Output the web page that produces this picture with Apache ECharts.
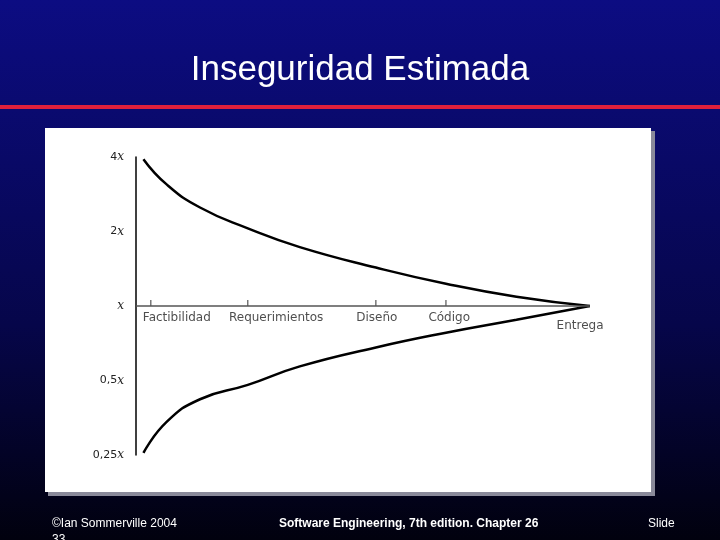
<!DOCTYPE html>
<html>
<head>
<meta charset="utf-8">
<script src="https://cdn.jsdelivr.net/npm/echarts@6/dist/echarts.min.js"></script>
<style>
  html, body { margin: 0; padding: 0; }
  #main { width: 720px; height: 540px; }
</style>
</head>
<body>
<div id="main"></div>
<script>
// tiempo del proyecto (0..100) y multiplicador de la estimación
var timeX = [1.6, 6.6, 13.8, 24.1, 35.3, 51.7, 66.8, 82, 97.8];
var upperY = [3.92, 3.1, 2.5, 2.06, 1.73, 1.43, 1.23, 1.09, 1];
var lowerY = [0.255, 0.34, 0.42, 0.48, 0.57, 0.68, 0.78, 0.88, 1];
// fases
var phases = ['Factibilidad', 'Requerimientos', 'Diseño', 'Código', 'Entrega'];
var phaseTicks = [3.2, 24.1, 51.7, 66.8];
var phaseLabelX = [8.8, 30.2, 51.9, 67.5, 95.7];
// etiquetas eje y
var yTicks = [0.25, 0.5, 1, 2, 4];
var yLabels = ['0,25', '0,5', '', '2', '4'];

function zip(xs, ys) {
    var out = [];
    for (let i = 0; i < xs.length; i++) out.push([xs[i], ys[i]]);
    return out;
}

var myChart = echarts.init(document.getElementById('main'));
var option = {
    animation: false,
    backgroundColor: new echarts.graphic.LinearGradient(0, 0, 0, 1, [
        { offset: 0, color: '#0c0c82' },
        { offset: 0.6, color: '#06064a' },
        { offset: 1, color: '#01010e' }
    ]),
    title: {
        text: 'Inseguridad Estimada',
        left: 'center',
        top: 48,
        textStyle: { color: '#fff', fontFamily: 'Liberation Sans', fontWeight: 'normal', fontSize: 35 }
    },
    graphic: [
        { type: 'rect', shape: { x: 0, y: 105, width: 720, height: 4 }, style: { fill: '#e0203c' } },
        { type: 'rect', shape: { x: 48, y: 131, width: 607, height: 365 }, style: { fill: '#8a8a9a' } },
        { type: 'rect', shape: { x: 45, y: 128, width: 606, height: 364 }, style: { fill: '#fff' } },
        { type: 'text', left: 52, top: 518, style: { text: '©Ian Sommerville 2004', fill: '#fff', font: '12px Liberation Sans' } },
        { type: 'text', left: 279, top: 518, style: { text: 'Software Engineering, 7th edition. Chapter 26', fill: '#fff', font: 'bold 12px Liberation Sans' } },
        { type: 'text', left: 648, top: 518, style: { text: 'Slide', fill: '#fff', font: '12px Liberation Sans' } },
        { type: 'text', left: 52, top: 534, style: { text: '33', fill: '#fff', font: '12px Liberation Sans' } }
    ],
    grid: { left: 136, width: 464, top: 157, height: 298 },
    xAxis: { type: 'value', min: 0, max: 100, show: false },
    yAxis: {
        type: 'log', logBase: 2, min: 0.25, max: 4,
        axisLine: { show: true, lineStyle: { color: '#000', width: 1.5 } },
        axisTick: { show: false },
        splitLine: { show: false },
        axisLabel: {
            margin: 12,
            formatter: function (v) {
                var i = yTicks.indexOf(v);
                return '{n|' + (i >= 0 ? yLabels[i] : '') + '}{x|x}';
            },
            rich: {
                n: { fontFamily: 'DejaVu Sans', fontSize: 11, color: '#222' },
                x: { fontFamily: 'DejaVu Serif', fontStyle: 'italic', fontSize: 12, color: '#222' }
            }
        }
    },
    series: [
        {
            type: 'line', smooth: true, symbol: 'none', data: zip(timeX, upperY),
            lineStyle: { color: '#000', width: 2.5 },
            markLine: {
                silent: true, symbol: 'none', label: { show: false },
                lineStyle: { color: '#555', type: 'solid', width: 1.5 },
                data: [[{ coord: [0, 1] }, { coord: [97.8, 1] }]]
            }
        },
        {
            type: 'line', smooth: true, symbol: 'none', data: zip(timeX, lowerY),
            lineStyle: { color: '#000', width: 2.5 }
        },
        {
            // marcas de fase sobre el eje x
            type: 'scatter', symbol: 'rect', symbolSize: [1, 6], symbolOffset: [0, -3],
            itemStyle: { color: '#000' },
            data: phaseTicks.map(function (t) { return [t, 1]; })
        },
        {
            type: 'scatter', symbolSize: 0,
            data: phases.map(function (p, i) { return { value: [phaseLabelX[i], 1], name: p }; }),
            label: {
                show: true, position: 'bottom', distance: 6,
                formatter: function (p) { return p.name; },
                fontFamily: 'DejaVu Sans', fontSize: 12, color: '#222'
            },
            labelLayout: function (p) {
                return p.dataIndex === 4 ? { dy: 8 } : {};
            }
        }
    ]
};
myChart.setOption(option);
</script>
</body>
</html>
